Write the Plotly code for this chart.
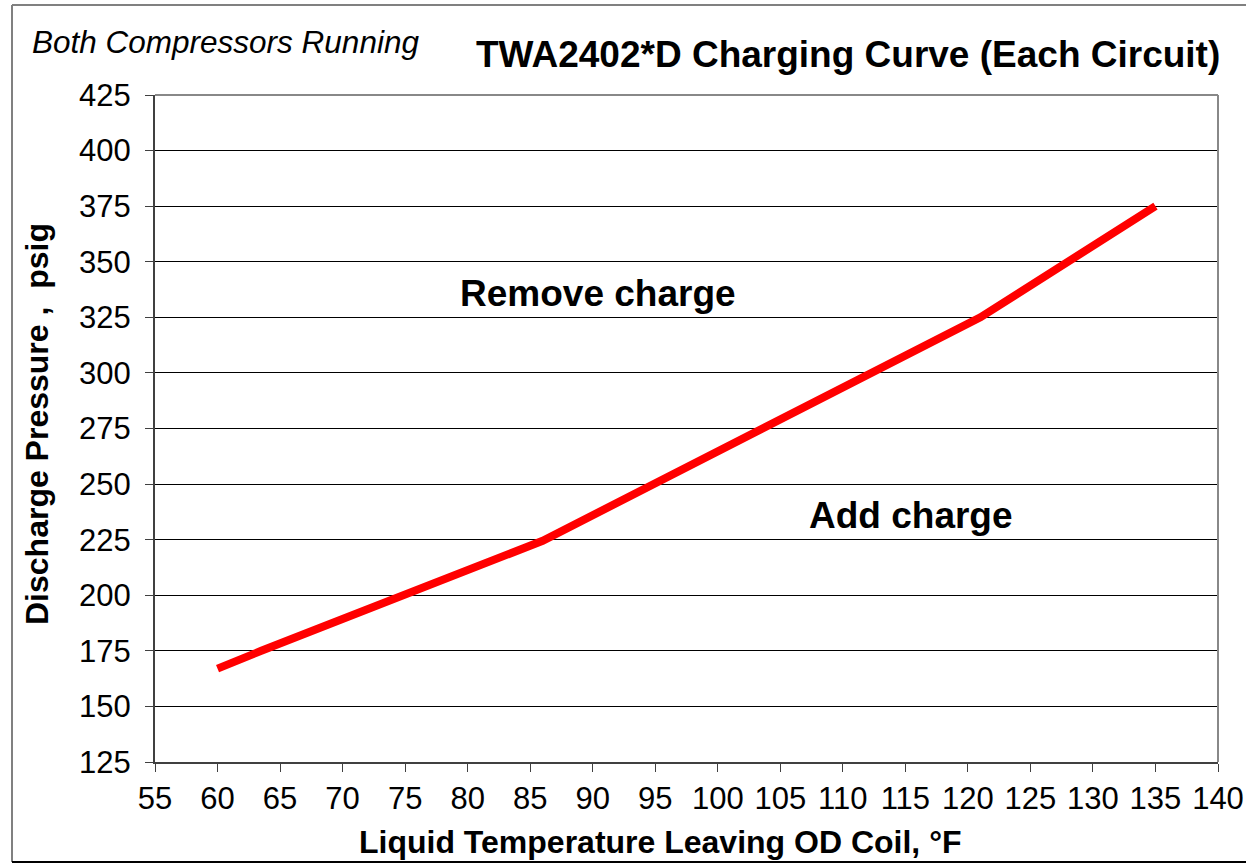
import plotly.graph_objects as go

# Data
temp_f = [60, 63.5, 86, 121, 135]
pressure_psig = [167, 175, 224.5, 325, 375]

x_ticks = list(range(55, 141, 5))
y_ticks = list(range(125, 426, 25))

title_text = "TWA2402*D Charging Curve (Each Circuit)"
subtitle_text = "Both Compressors Running"
x_title = "Liquid Temperature Leaving OD Coil, °F"
y_title = "Discharge Pressure ,  psig"
remove_label = "Remove charge"
add_label = "Add charge"

W, H = 1247, 864
L, R, T, B = 155, 29, 95, 102
pw, ph = W - L - R, H - T - B

def px_to_paper_x(px):
    return (px - L) / pw

def px_to_paper_y(py):
    return (H - B - py) / ph

FONT = "Liberation Sans, Arial, sans-serif"

fig = go.Figure()
fig.add_trace(go.Scatter(
    x=temp_f, y=pressure_psig, mode="lines",
    line=dict(color="#ff0000", width=8),
    showlegend=False, hoverinfo="x+y",
))

frame_left = px_to_paper_x(12)
frame_right = px_to_paper_x(1246)
frame_top = px_to_paper_y(5)
frame_bottom = px_to_paper_y(862)

fig.update_layout(
    width=W, height=H,
    margin=dict(l=L, r=R, t=T, b=B, autoexpand=False),
    paper_bgcolor="white", plot_bgcolor="white",
    font=dict(family=FONT, color="black"),
    showlegend=False,
    xaxis=dict(
        range=[55, 140], tickvals=x_ticks, ticktext=[str(v) for v in x_ticks],
        showgrid=False, zeroline=False, automargin=False,
        showline=True, linecolor="#404040", linewidth=2,
        ticks="outside", ticklen=8, tickcolor="#404040", tickwidth=1,
        tickfont=dict(size=31, family=FONT, color="black"),
        mirror=False,
    ),
    yaxis=dict(
        range=[125, 425], tickvals=y_ticks, ticktext=[str(v) for v in y_ticks],
        showgrid=True, gridcolor="black", gridwidth=1,
        zeroline=False, automargin=False,
        showline=True, linecolor="#404040", linewidth=2,
        ticks="outside", ticklen=8, tickcolor="#404040", tickwidth=1,
        tickfont=dict(size=31, family=FONT, color="black"),
        ticklabelstandoff=8,
    ),
    shapes=[
        dict(type="line", xref="paper", yref="paper", x0=0, x1=1, y0=1, y1=1,
             line=dict(color="#888888", width=2)),
        dict(type="line", xref="paper", yref="paper", x0=1, x1=1, y0=0, y1=1,
             line=dict(color="#888888", width=2)),
        dict(type="line", xref="paper", yref="paper", x0=frame_left, x1=frame_left,
             y0=frame_bottom, y1=frame_top, line=dict(color="#808080", width=2)),
        dict(type="line", xref="paper", yref="paper", x0=frame_left, x1=frame_right,
             y0=frame_top, y1=frame_top, line=dict(color="#808080", width=2)),
        dict(type="line", xref="paper", yref="paper", x0=frame_left, x1=frame_right,
             y0=frame_bottom, y1=frame_bottom, line=dict(color="#000000", width=2)),
    ],
    annotations=[
        dict(text="<b>" + title_text + "</b>", xref="paper", yref="paper",
             x=px_to_paper_x(848), y=px_to_paper_y(55), showarrow=False,
             xanchor="center", yanchor="middle",
             font=dict(size=37, family=FONT, color="black")),
        dict(text="<i>" + subtitle_text + "</i>", xref="paper", yref="paper",
             x=px_to_paper_x(30), y=px_to_paper_y(42), showarrow=False,
             xanchor="left", yanchor="middle",
             font=dict(size=31.5, family=FONT, color="black")),
        dict(text="<b>" + x_title + "</b>", xref="paper", yref="paper",
             x=px_to_paper_x(660), y=px_to_paper_y(842), showarrow=False,
             xanchor="center", yanchor="middle",
             font=dict(size=32, family=FONT, color="black")),
        dict(text="<b>" + y_title + "</b>", xref="paper", yref="paper",
             x=px_to_paper_x(37), y=px_to_paper_y(424), showarrow=False,
             xanchor="center", yanchor="middle", textangle=-90,
             font=dict(size=32, family=FONT, color="black")),
        dict(text="<b>" + remove_label + "</b>", xref="paper", yref="paper",
             x=px_to_paper_x(598), y=px_to_paper_y(293), showarrow=False,
             xanchor="center", yanchor="middle",
             font=dict(size=37, family=FONT, color="black")),
        dict(text="<b>" + add_label + "</b>", xref="paper", yref="paper",
             x=px_to_paper_x(911), y=px_to_paper_y(515), showarrow=False,
             xanchor="center", yanchor="middle",
             font=dict(size=37, family=FONT, color="black")),
    ],
)

fig.write_html(
    "out.html",
    config={"displayModeBar": False},
    post_script="document.body.style.margin='0';document.body.style.overflow='hidden';",
)
